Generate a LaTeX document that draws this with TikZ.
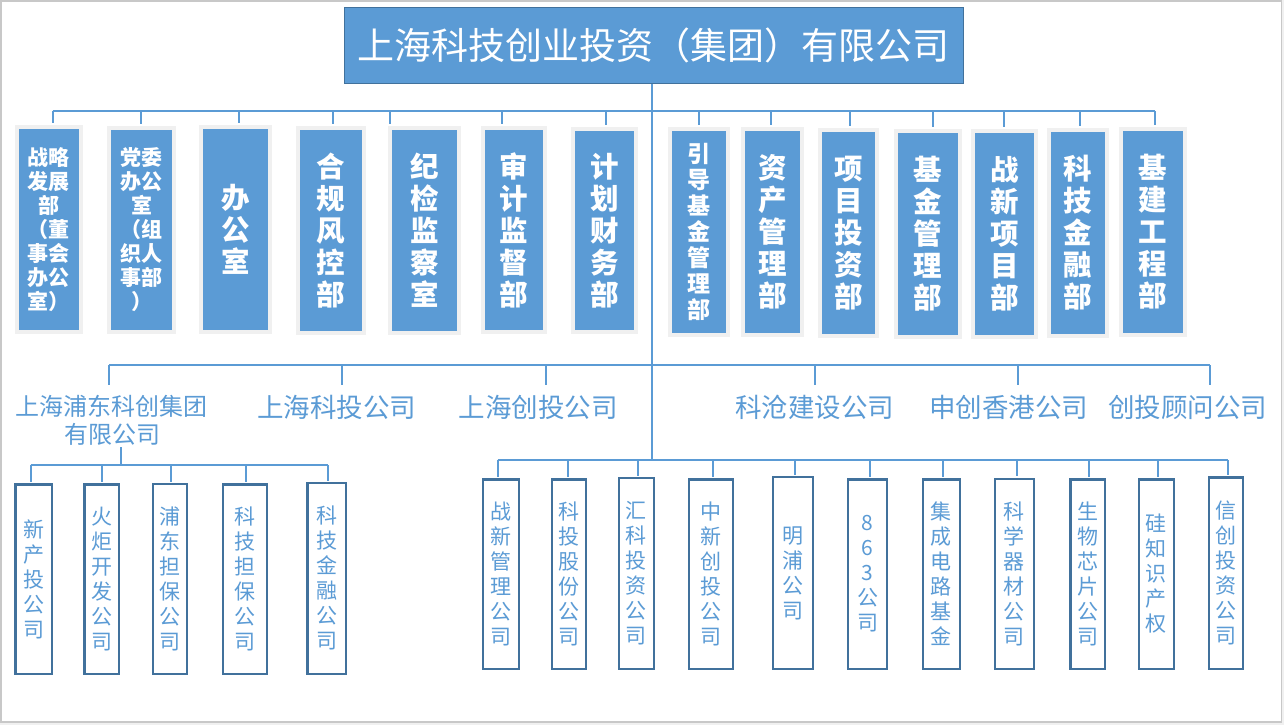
\documentclass[tikz,border=0pt]{standalone}
\usepackage{fontspec}
\setmainfont{Noto Sans CJK SC}
\definecolor{mblue}{HTML}{5B9BD5}
\definecolor{dblue}{HTML}{41719C}
\definecolor{lgray}{HTML}{F0F0F0}
\definecolor{fgray}{HTML}{C8C8C8}
\definecolor{pagebg}{HTML}{F0F0F0}
\begin{document}
\begin{tikzpicture}[x=1pt,y=-1pt,
  topbox/.style={fill=mblue, draw=dblue, line width=1pt, inner sep=0pt, text=white,
    font=\fontsize{37}{40}\selectfont},
  dept/.style={fill=mblue, draw=lgray, line width=4pt, inner sep=0pt, text=white, align=center},
  dbig/.style={dept, font=\bfseries\fontsize{28.5}{32}\selectfont},
  dmid/.style={dept, font=\bfseries\fontsize{23}{26}\selectfont},
  dsmall/.style={dept, font=\bfseries\fontsize{21}{24}\selectfont},
  sub/.style={fill=white, draw=dblue, line width=2.5pt, inner sep=0pt, text=mblue, align=center,
    font=\fontsize{21}{25}\selectfont},
  lbl/.style={text=mblue, inner sep=0pt, align=center, font=\fontsize{26.5}{28}\selectfont},
  conn/.style={draw=mblue, line width=2pt}]
\useasboundingbox (0,0) rectangle (1284,725);
\fill[pagebg] (0,0) rectangle (1284,725);
\draw[fgray, fill=white, line width=1.5pt] (0.75,1) rectangle (1281.5,722);

% top box
\node[topbox, minimum width=619pt, minimum height=76pt] (top) at (653.5,45.3) {上海科技创业投资（集团）有限公司};

% departments
\node[dsmall, minimum width=63.2pt, minimum height=205pt] (b1) at (48.9,229.5) {战略\\发展\\部\\（董\\事会\\办公\\室）};
\node[dsmall, minimum width=65pt, minimum height=204pt] (b2) at (141.5,230) {党委\\办公\\室\\（组\\织人\\事部\\）};
\node[dbig, minimum width=68.5pt, minimum height=205pt] (b3) at (235.3,229.5) {办\\公\\室};
\node[dbig, minimum width=65.6pt, minimum height=205pt] (b4) at (330.8,230.5) {合\\规\\风\\控\\部};
\node[dbig, minimum width=69pt, minimum height=205pt] (b5) at (424.5,230.5) {纪\\检\\监\\察\\室};
\node[dbig, minimum width=62pt, minimum height=204pt] (b6) at (514,230) {审\\计\\监\\督\\部};
\node[dbig, minimum width=62.5pt, minimum height=203pt] (b7) at (604.3,230.5) {计\\划\\财\\务\\部};
\node[dmid, minimum width=57.5pt, minimum height=206pt] (b8) at (698.8,232) {引\\导\\基\\金\\管\\理\\部};
\node[dbig, minimum width=58.5pt, minimum height=206pt] (b9) at (772.3,232) {资\\产\\管\\理\\部};
\node[dbig, minimum width=57.6pt, minimum height=206pt] (b10) at (848.6,233) {项\\目\\投\\资\\部};
\node[dbig, minimum width=64.6pt, minimum height=206pt] (b11) at (928.1,234) {基\\金\\管\\理\\部};
\node[dbig, minimum width=62.6pt, minimum height=206pt] (b12) at (1004.3,234) {战\\新\\项\\目\\部};
\node[dbig, minimum width=58.8pt, minimum height=206pt] (b13) at (1078,233) {科\\技\\金\\融\\部};
\node[dbig, minimum width=63.4pt, minimum height=206pt] (b14) at (1153,232) {基\\建\\工\\程\\部};

% second-level labels
\node[lbl, font=\fontsize{24}{28}\selectfont] (L1) at (112,420) {上海浦东科创集团\\有限公司};
\node[lbl] (L2) at (336.5,407) {上海科投公司};
\node[lbl] (L3) at (538,407) {上海创投公司};
\node[lbl] (L4) at (814.6,407) {科沧建设公司};
\node[lbl] (L5) at (1008.5,407) {申创香港公司};
\node[lbl] (L6) at (1187.7,407) {创投顾问公司};

% left sub boxes
\node[sub, minimum width=36.5pt, minimum height=189.5pt] (a1) at (33.8,579) {新\\产\\投\\公\\司};
\node[sub, minimum width=34.2pt, minimum height=189.5pt] (a2) at (101.7,579) {火\\炬\\开\\发\\公\\司};
\node[sub, minimum width=34.1pt, minimum height=189.8pt] (a3) at (170,578.9) {浦\\东\\担\\保\\公\\司};
\node[sub, minimum width=44.1pt, minimum height=189.5pt] (a4) at (245,579) {科\\技\\担\\保\\公\\司};
\node[sub, minimum width=38.8pt, minimum height=190.8pt] (a5) at (326.7,578.4) {科\\技\\金\\融\\公\\司};

% right sub boxes
\node[sub, minimum width=35.8pt, minimum height=189.5pt] (r1) at (500.9,574) {战\\新\\管\\理\\公\\司};
\node[sub, minimum width=34.1pt, minimum height=189.5pt] (r2) at (569,574) {科\\投\\股\\份\\公\\司};
\node[sub, minimum width=34.8pt, minimum height=190.8pt] (r3) at (636.4,573.4) {汇\\科\\投\\资\\公\\司};
\node[sub, minimum width=43.8pt, minimum height=189.5pt] (r4) at (710.9,574) {中\\新\\创\\投\\公\\司};
\node[sub, minimum width=39.8pt, minimum height=191.8pt] (r5) at (792.9,572.9) {明\\浦\\公\\司};
\node[sub, minimum width=39.1pt, minimum height=189.5pt] (r6) at (867.5,574) {8\\6\\3\\公\\司};
\node[sub, minimum width=36.8pt, minimum height=189.5pt] (r7) at (941.4,574) {集\\成\\电\\路\\基\\金};
\node[sub, minimum width=38.8pt, minimum height=190pt] (r8) at (1014.4,573.9) {科\\学\\器\\材\\公\\司};
\node[sub, minimum width=34.2pt, minimum height=189.5pt] (r9) at (1087.7,574) {生\\物\\芯\\片\\公\\司};
\node[sub, minimum width=34.8pt, minimum height=189.5pt] (r10) at (1156.4,574) {硅\\知\\识\\产\\权};
\node[sub, minimum width=34.1pt, minimum height=191.5pt] (r11) at (1226,573) {信\\创\\投\\资\\公\\司};

% ---- connectors ----
\coordinate (vend) at (651.5,460);
\draw[conn] (top.south -| vend) -- (vend);

% top bus
\foreach \n/\x in {1/52.6,2/141.3,3/238.8,4/332.9,5/389.6,6/502,7/605.6,8/698.7,9/770.6,10/849.9,11/932.8,12/1004.3,13/1079.9,14/1154.6}{
  \coordinate (t\n) at (\x,111);
  \draw[conn, shorten >=2pt] (t\n) -- (t\n |- b\n.north);
}
\draw[conn] (t1) -- (t14);

% second bus
\foreach \n/\x in {1/109,2/342,3/546,4/815.4,5/1017.8,6/1210}{
  \coordinate (m\n) at (\x,365);
  \coordinate (n\n) at (\x,385);
  \draw[conn] (m\n) -- (n\n);
}
\draw[conn] (m1) -- (m6);

% left sub bus
\coordinate (l0) at (120.5,447);
\coordinate (lb) at (120.5,465);
\draw[conn] (l0) -- (lb);
\foreach \n/\x in {1/30.7,2/102,3/171,4/246,5/328}{
  \coordinate (p\n) at (\x,465);
  \draw[conn, shorten >=1.2pt] (p\n) -- (p\n |- a\n.north);
}
\draw[conn] (p1) -- (p5);

% right sub bus
\foreach \n/\x in {1/497.7,2/567.7,3/637.7,4/712.7,5/795,6/870,7/942.7,8/1016.7,9/1088.7,10/1157.7,11/1227.7}{
  \coordinate (q\n) at (\x,460);
  \draw[conn, shorten >=1.2pt] (q\n) -- (q\n |- r\n.north);
}
\draw[conn] (q1) -- (q11);
\end{tikzpicture}
\end{document}
